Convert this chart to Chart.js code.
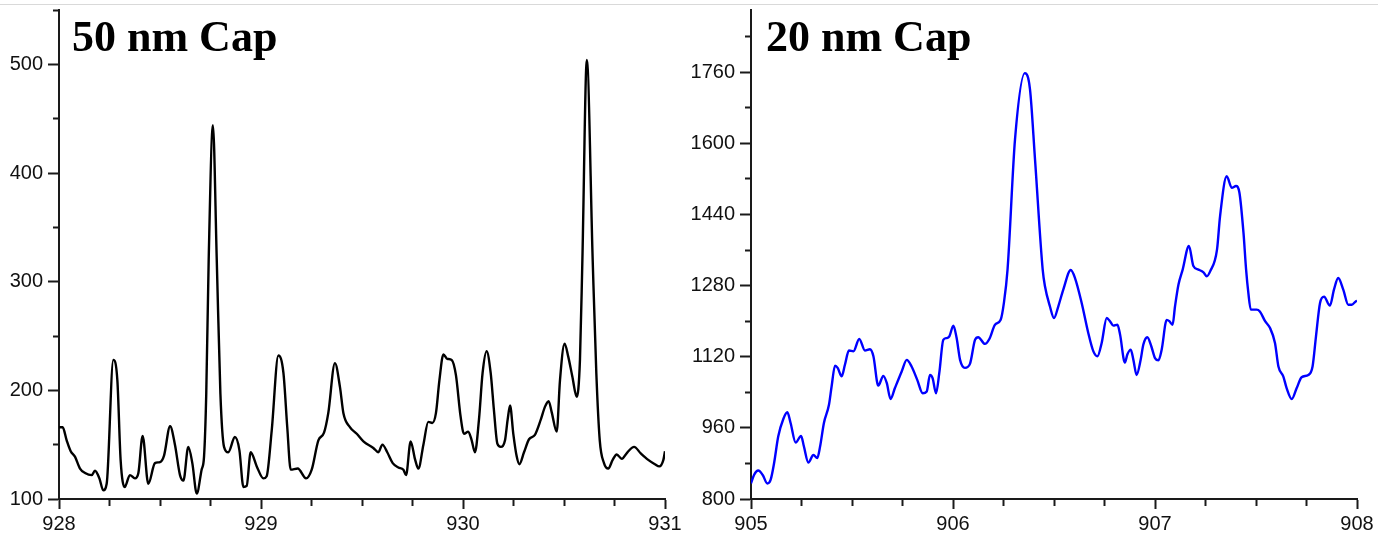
<!DOCTYPE html>
<html>
<head>
<meta charset="utf-8">
<script src="https://cdn.jsdelivr.net/npm/chart.js@4"></script>
<style>
  html, body { margin: 0; padding: 0; background: #fff; }
  body { width: 1388px; height: 537px; position: relative; overflow: hidden; }
  .topline { position: absolute; left: 0; top: 4px; width: 1378px; height: 1px; background: #d9d9d9; }
  .panel { position: absolute; top: 0; height: 537px; }
  .title { position: absolute; top: 15px; font: bold 44px "Liberation Serif", "Times New Roman", serif; line-height: 1; color: #000; white-space: nowrap; }
</style>
</head>
<body>
<div class="topline"></div>
<div class="panel" style="left:0;width:690px"><canvas id="capFifty"></canvas></div>
<div class="panel" style="left:690px;width:698px"><canvas id="capTwenty"></canvas></div>
<div class="title" style="left:72px">50 nm Cap</div>
<div class="title" style="left:766px">20 nm Cap</div>

<script>
// ── 50 nm Cap spectrum (black) ──
const fiftyX = [
  928.000, 928.018, 928.038, 928.058, 928.079, 928.104, 928.129, 928.162, 928.178, 928.200,
  928.219, 928.236, 928.269, 928.289, 928.305, 928.325, 928.351, 928.376, 928.393, 928.414,
  928.442, 928.475, 928.500, 928.520, 928.550, 928.574, 928.599, 928.616, 928.640, 928.660,
  928.682, 928.706, 928.718, 928.729, 928.741, 928.762, 928.781, 928.799, 928.817, 928.838,
  928.871, 928.893, 928.913, 928.929, 928.949, 928.979, 929.012, 929.028, 929.053, 929.086,
  929.111, 929.130, 929.147, 929.182, 929.223, 929.251, 929.284, 929.312, 929.333, 929.366,
  929.391, 929.408, 929.441, 929.474, 929.507, 929.556, 929.581, 929.601, 929.625, 929.652,
  929.680, 929.705, 929.718, 929.741, 929.762, 929.779, 929.804, 929.828, 929.848, 929.866,
  929.883, 929.903, 929.922, 929.944, 929.965, 929.988, 930.005, 930.026, 930.043, 930.059,
  930.079, 930.097, 930.117, 930.137, 930.153, 930.170, 930.187, 930.208, 930.221, 930.233,
  930.249, 930.266, 930.279, 930.302, 930.327, 930.356, 930.385, 930.406, 930.424, 930.439,
  930.464, 930.480, 930.503, 930.521, 930.541, 930.563, 930.579, 930.591, 930.613, 930.642,
  930.660, 930.677, 930.698, 930.719, 930.741, 930.761, 930.786, 930.814, 930.847, 930.880,
  930.917, 930.950, 930.972, 930.992, 931.000
];
const fiftyY = [
  166, 166, 154, 144, 139, 128, 124, 122, 126, 119,
  108, 114, 228, 209, 136, 111, 122, 119, 124, 158,
  114, 133, 134, 140, 167, 150, 122, 117, 148, 133,
  105, 127, 139, 197, 320, 444, 320, 197, 148, 143,
  157, 145, 111, 112, 143, 130, 119, 121, 163, 232,
  216, 166, 127, 128, 119, 127, 154, 161, 179, 225,
  203, 179, 166, 160, 153, 147, 143, 150, 143, 133,
  129, 127, 122, 153, 137, 128, 150, 171, 170, 179,
  209, 233, 229, 228, 214, 176, 160, 162, 154, 143,
  173, 216, 236, 216, 182, 151, 148, 154, 173, 186,
  160, 139, 132, 143, 155, 159, 173, 185, 190, 180,
  162, 209, 243, 231, 213, 194, 228, 320, 504, 320,
  216, 154, 133, 128, 136, 141, 137, 143, 148, 142,
  136, 132, 130, 136, 144
];

// ── 20 nm Cap spectrum (blue) ──
const twentyX = [
  905.000, 905.015, 905.036, 905.058, 905.081, 905.097, 905.114, 905.135, 905.160, 905.180,
  905.196, 905.221, 905.248, 905.262, 905.284, 905.309, 905.328, 905.342, 905.361, 905.386,
  905.399, 905.416, 905.429, 905.449, 905.465, 905.485, 905.507, 905.536, 905.564, 905.589,
  905.606, 905.630, 905.655, 905.672, 905.691, 905.712, 905.746, 905.771, 905.795, 905.823,
  905.850, 905.870, 905.886, 905.899, 905.916, 905.932, 905.952, 905.969, 905.982, 906.002,
  906.018, 906.035, 906.059, 906.084, 906.109, 906.125, 906.158, 906.180, 906.208, 906.236,
  906.252, 906.270, 906.307, 906.356, 906.381, 906.406, 906.444, 906.455, 906.480, 906.500,
  906.521, 906.546, 906.583, 906.604, 906.637, 906.670, 906.695, 906.715, 906.736, 906.761,
  906.777, 906.794, 906.814, 906.827, 906.851, 906.863, 906.880, 906.893, 906.909, 906.929,
  906.942, 906.962, 906.982, 907.000, 907.017, 907.033, 907.058, 907.071, 907.087, 907.099,
  907.116, 907.137, 907.168, 907.190, 907.215, 907.240, 907.256, 907.273, 907.307, 907.322,
  907.355, 907.380, 907.401, 907.418, 907.438, 907.451, 907.462, 907.474, 907.503, 907.519,
  907.545, 907.569, 907.594, 907.611, 907.635, 907.652, 907.677, 907.701, 907.726, 907.759,
  907.780, 907.797, 907.817, 907.837, 907.866, 907.886, 907.907, 907.932, 907.957, 907.974,
  907.995, 908.000
];
const twentyY = [
  835, 854, 864, 854, 835, 843, 880, 941, 980, 995,
  971, 927, 942, 918, 882, 899, 892, 918, 971, 1012,
  1053, 1100, 1095, 1076, 1102, 1134, 1132, 1160, 1134, 1137,
  1121, 1055, 1077, 1061, 1025, 1049, 1087, 1113, 1098, 1068,
  1038, 1042, 1079, 1072, 1038, 1083, 1158, 1162, 1166, 1190,
  1162, 1113, 1095, 1104, 1158, 1164, 1149, 1160, 1192, 1203,
  1241, 1316, 1609, 1758, 1722, 1564, 1316, 1279, 1233, 1207,
  1233, 1271, 1315, 1297, 1241, 1173, 1132, 1121, 1151, 1207,
  1200, 1190, 1192, 1170, 1107, 1125, 1136, 1113, 1079, 1113,
  1147, 1164, 1143, 1117, 1112, 1136, 1203, 1200, 1192, 1233,
  1282, 1316, 1369, 1324, 1316, 1310, 1301, 1312, 1361, 1436,
  1526, 1500, 1504, 1489, 1399, 1316, 1264, 1226, 1226, 1222,
  1200, 1185, 1151, 1098, 1076, 1049, 1025, 1049, 1074, 1079,
  1098, 1166, 1241, 1255, 1235, 1271, 1297, 1271, 1237, 1237,
  1245, 1246
];

// axis ranges
const fiftyRange  = { xMin: 928, xMax: 931, yMin: 100, yMax: 550, yStep: 50,  yLabelStep: 100 };
const twentyRange = { xMin: 905, xMax: 908, yMin: 800, yMax: 1900, yStep: 80, yLabelStep: 160 };

const AXIS_COLOR = '#1a1a1a';
const tickFont = { family: "'Liberation Sans', Arial, sans-serif", size: 20 };

function makeChart(id, xs, ys, color, r, yWidth, padRight) {
  const isMajorX = v => Math.abs(v - Math.round(v)) < 1e-6;
  const isMajorY = v => Math.abs(((v - r.yMin) % r.yLabelStep)) < 1e-6;

  return new Chart(document.getElementById(id), {
    type: 'line',
    data: {
      datasets: [{
        data: xs.map((x, i) => ({ x, y: ys[i] })),
        borderColor: color,
        borderWidth: 2.4,
        pointRadius: 0,
        cubicInterpolationMode: 'monotone',
        fill: false
      }]
    },
    options: {
      responsive: true,
      maintainAspectRatio: false,
      animation: false,
      layout: { padding: { left: 0, right: padRight, top: 10, bottom: 0 } },
      plugins: { legend: { display: false }, tooltip: { enabled: false } },
      scales: {
        x: {
          type: 'linear',
          min: r.xMin, max: r.xMax,
          afterFit: s => { s.height = 38; },
          border: { display: true, color: AXIS_COLOR, width: 2 },
          grid: {
            drawOnChartArea: false,
            tickLength: 10,
            tickWidth: 2,
            tickColor: AXIS_COLOR,
            // minor ticks: only the part next to the axis
            tickBorderDash: c => (c.tick && isMajorX(c.tick.value)) ? [] : [6, 40]
          },
          ticks: {
            stepSize: 0.25,
            autoSkip: false,
            maxRotation: 0,
            padding: 3,
            color: '#111',
            font: tickFont,
            callback: v => isMajorX(v) ? String(Math.round(v)) : ''
          }
        },
        y: {
          type: 'linear',
          min: r.yMin, max: r.yMax,
          afterFit: s => { s.width = yWidth; s.paddingTop = 0; s.paddingBottom = 0; },
          border: { display: true, color: AXIS_COLOR, width: 2 },
          grid: {
            drawOnChartArea: false,
            tickLength: 11,
            tickWidth: 2,
            tickColor: AXIS_COLOR,
            // y ticks are stroked from the outer end, so skip the first 5px
            tickBorderDash: c => (c.tick && isMajorY(c.tick.value)) ? [] : [0, 5, 6, 40]
          },
          ticks: {
            stepSize: r.yStep,
            includeBounds: false,
            autoSkip: false,
            padding: 5,
            color: '#111',
            font: tickFont,
            callback: v => isMajorY(v) ? String(v) : ''
          }
        }
      }
    }
  });
}

makeChart('capFifty', fiftyX, fiftyY, '#000000', fiftyRange, 59, 25);
makeChart('capTwenty', twentyX, twentyY, '#0000ff', twentyRange, 61, 31);
</script>
</body>
</html>
